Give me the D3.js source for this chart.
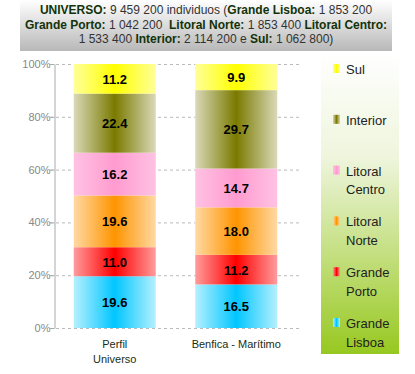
<!DOCTYPE html>
<meta charset="utf-8">
<title>Perfil Universo vs Benfica - Marítimo</title>
<script src="https://d3js.org/d3.v7.min.js"></script>
<style>
    body { margin: 0; background: #fff; font-family: "Liberation Sans", Arial, sans-serif; }
</style>
<body>
<script>
    // categories (bottom to top of each bar)
    let regions = ["Grande Lisboa", "Grande Porto", "Litoral Norte", "Litoral Centro", "Interior", "Sul"];
    let groups = ["Perfil Universo", "Benfica - Marítimo"];
    let groupLines = [["Perfil", "Universo"], ["Benfica - Marítimo"]];
    // % share per region
    let universo = [19.6, 11.0, 19.6, 16.2, 22.4, 11.2];
    let benfica = [16.5, 11.2, 18.0, 14.7, 29.7, 9.9];
    let yTicks = [0, 20, 40, 60, 80, 100];
    // legend labels, split in lines
    let legendLines = [["Grande", "Lisboa"], ["Grande", "Porto"], ["Litoral", "Norte"], ["Litoral", "Centro"], ["Interior"], ["Sul"]];
    // header text: [bold, normal] pairs per line
    let header = [
        [["UNIVERSO: ", "9 459 200 individuos ("], ["Grande Lisboa: ", "1 853 200"]],
        [["Grande Porto: ", "1 042 200  "], ["Litoral Norte: ", "1 853 400 "], ["Litoral Centro:", ""]],
        [["", "1 533 400 "], ["Interior: ", "2 114 200 e "], ["Sul: ", "1 062 800)"]]
    ];
    // edge / centre colours of the bar gradients
    let edgeColors = ["#b5f0ff", "#ff9c9c", "#ffd9a3", "#ffc2e3", "#d9d9b8", "#ffff99"];
    let midColors = ["#00c6ff", "#ff0000", "#ff9400", "#ff9bcf", "#7a7a00", "#ffff00"];

    let W = 415, H = 374;
    let svg = d3.select("body").append("svg").attr("width", W).attr("height", H);
    let defs = svg.append("defs");

    // header box
    let hg = defs.append("linearGradient").attr("id", "hdr").attr("x1", 0).attr("x2", 0).attr("y1", 0).attr("y2", 1);
    hg.append("stop").attr("offset", 0).attr("stop-color", "#ffffff");
    hg.append("stop").attr("offset", 1).attr("stop-color", "#b8b8b8");
    svg.append("rect").attr("x", 20).attr("y", 0).attr("width", 372).attr("height", 51).attr("fill", "url(#hdr)");

    let ht = svg.append("g").attr("font-size", 12);
    header.forEach((line, i) => {
        let t = ht.append("text").attr("x", 206).attr("y", 14 + i * 14.5).attr("text-anchor", "middle");
        line.forEach(p => {
            if (p[0]) t.append("tspan").attr("font-weight", "bold").attr("fill", "#12330a").text(p[0]);
            if (p[1]) t.append("tspan").attr("fill", "#333").style("white-space", "pre").text(p[1]);
        });
    });

    // legend box
    let lg = defs.append("linearGradient").attr("id", "leg").attr("x1", 0).attr("x2", 0).attr("y1", 0).attr("y2", 1);
    lg.append("stop").attr("offset", 0).attr("stop-color", "#ffffff");
    lg.append("stop").attr("offset", 0.35).attr("stop-color", "#eef5dc");
    lg.append("stop").attr("offset", 1).attr("stop-color", "#97c820");
    svg.append("rect").attr("x", 321).attr("y", 53).attr("width", 78).attr("height", 301).attr("fill", "url(#leg)");

    // bar gradients
    regions.forEach((r, i) => {
        let g = defs.append("linearGradient").attr("id", "g" + i);
        g.append("stop").attr("offset", 0).attr("stop-color", edgeColors[i]);
        g.append("stop").attr("offset", 0.5).attr("stop-color", midColors[i]);
        g.append("stop").attr("offset", 1).attr("stop-color", edgeColors[i]);
    });

    let x = d3.scaleBand().domain(groups).range([54, 297]).paddingInner(0.325).paddingOuter(0.1625);
    let y = d3.scaleLinear().domain([0, 100]).range([328, 64]);

    // grid
    svg.append("g").selectAll("line").data(yTicks).join("line")
        .attr("x1", 50).attr("x2", 302)
        .attr("y1", d => y(d) + 0.5).attr("y2", d => y(d) + 0.5)
        .attr("stroke", "#bbb").attr("stroke-dasharray", "3,3");

    // y axis
    let yAxis = svg.append("g").attr("transform", "translate(54.5,0)")
        .call(d3.axisLeft(y).tickValues(yTicks).tickFormat(d => d + "%").tickSize(4).tickSizeOuter(0));
    yAxis.select(".domain").attr("stroke", "#aaa");
    yAxis.selectAll(".tick line").attr("stroke", "#aaa");
    yAxis.selectAll(".tick text").attr("fill", "#888").attr("font-size", 11)
        .attr("font-family", "'Liberation Sans', Arial, sans-serif").attr("x", -4);

    let table = groups.map((g, j) => {
        let row = { group: g };
        regions.forEach((r, i) => row[r] = (j === 0 ? universo : benfica)[i]);
        return row;
    });
    let series = d3.stack().keys(regions)(table);

    let layers = svg.append("g").selectAll("g").data(series).join("g")
        .attr("fill", (d, i) => "url(#g" + i + ")");
    layers.selectAll("rect").data(d => d).join("rect")
        .attr("x", d => x(d.data.group))
        .attr("width", x.bandwidth())
        .attr("y", d => y(d[1]))
        .attr("height", d => y(d[0]) - y(d[1]));

    let labels = svg.append("g").attr("font-size", 13).attr("font-weight", "bold").attr("text-anchor", "middle");
    series.forEach(s => {
        s.forEach(d => {
            labels.append("text")
                .attr("x", x(d.data.group) + x.bandwidth() / 2)
                .attr("y", (y(d[0]) + y(d[1])) / 2 + 5)
                .text(d3.format(".1f")(d[1] - d[0]));
        });
    });

    // x labels
    let xl = svg.append("g").attr("font-size", 11).attr("fill", "#1b2e12").attr("text-anchor", "middle");
    groups.forEach((g, j) => {
        groupLines[j].forEach((ln, k) => {
            xl.append("text").attr("x", x(g) + x.bandwidth() / 2).attr("y", 348 + k * 15).text(ln);
        });
    });

    // legend
    let leg = svg.append("g").attr("font-size", 13).attr("fill", "#222");
    regions.forEach((r, i) => {
        let top = 323 - i * 50.8;
        let mg = defs.append("linearGradient").attr("id", "m" + i);
        mg.append("stop").attr("offset", 0).attr("stop-color", edgeColors[i]);
        mg.append("stop").attr("offset", 0.5).attr("stop-color", midColors[i]);
        mg.append("stop").attr("offset", 1).attr("stop-color", edgeColors[i]);
        leg.append("rect").attr("x", 333).attr("y", top - 5).attr("width", 7).attr("height", 9).attr("fill", "url(#m" + i + ")");
        legendLines[i].forEach((ln, k) => {
            leg.append("text").attr("x", 346).attr("y", top + 5 + k * 18.5).text(ln);
        });
    });
</script>
</body>
